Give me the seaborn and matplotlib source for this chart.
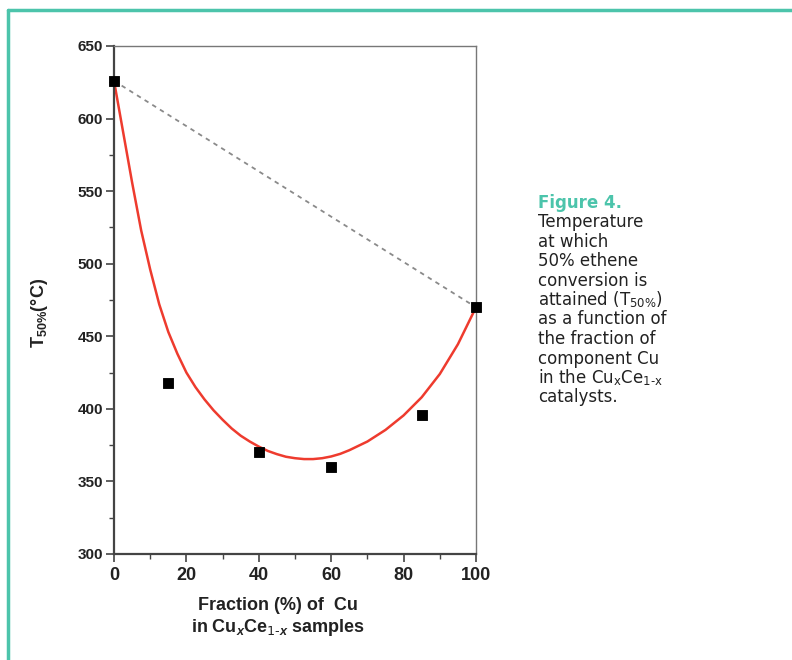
import numpy as np
import pandas as pd
import matplotlib.pyplot as plt
import seaborn as sns

# measured points (fraction of Cu in %, T50% in C)
cu_frac = [0, 15, 40, 60, 85, 100]
t50 = [626, 418, 370, 360, 396, 470]

# fitted red curve
fit_x = [0, 2.5, 5, 7.5, 10, 12.5, 15, 17.5, 20, 22.5, 25, 27.5, 30, 32.5, 35, 37.5,
         40, 42.5, 45, 47.5, 50, 52.5, 55, 57.5, 60, 62.5, 65, 70, 75, 80, 85, 90, 95, 100]
fit_y = [626, 591, 556, 523, 496, 472, 453, 438, 425, 415, 406.5, 399, 392.5, 386.5, 381.5, 377.5,
         374, 371, 368.8, 367, 366, 365.4, 365.4, 366, 367.2, 369, 371.5, 377.5, 385.5, 395.5,
         408, 424, 444.5, 470]

# straight dashed line between the pure oxides
end_x = [0, 100]
end_y = [626, 470]

caption = ["Temperature", "at which", "50% ethene", "conversion is",
           r"attained (T$_{\mathrm{50\%}}$)", "as a function of", "the fraction of",
           "component Cu", r"in the Cu$_{\mathrm{x}}$Ce$_{\mathrm{1\text{-}x}}$", "catalysts."]

sns.set_style("ticks")
plt.rcParams['font.family'] = ['Liberation Sans', 'DejaVu Sans']
plt.rcParams['mathtext.fontset'] = 'custom'
plt.rcParams['mathtext.rm'] = 'DejaVu Sans'
plt.rcParams['mathtext.bf'] = 'Liberation Sans:bold'
plt.rcParams['mathtext.it'] = 'Liberation Sans:bold:italic'

teal = '#4cc4ab'

fig = plt.figure(figsize=(7.92, 6.6), dpi=100)
ax = fig.add_axes([114 / 792, 1 - 554 / 660, 362 / 792, 508 / 660])

df_pts = pd.DataFrame({'x': cu_frac, 'y': t50})
df_fit = pd.DataFrame({'x': fit_x, 'y': fit_y})
df_end = pd.DataFrame({'x': end_x, 'y': end_y})

sns.lineplot(data=df_end, x='x', y='y', ax=ax, color='#8a8a8a', lw=1.3,
             linestyle=(0, (2.5, 2.5)), clip_on=False)
sns.lineplot(data=df_fit, x='x', y='y', ax=ax, color='#ee3b2e', lw=1.8, clip_on=False)
sns.scatterplot(data=df_pts, x='x', y='y', ax=ax, marker='s', s=62, color='black',
                edgecolor='black', zorder=5, clip_on=False)

ax.set_xlim(0, 100)
ax.set_ylim(300, 650)
ax.set_xticks(np.arange(0, 101, 20))
ax.set_xticks(np.arange(10, 100, 20), minor=True)
ax.set_yticks(np.arange(300, 651, 50))
ax.set_yticks(np.arange(325, 650, 50), minor=True)
ax.tick_params(axis='both', which='major', direction='out', length=6, width=1.2, color='#444444')
ax.tick_params(axis='both', which='minor', direction='out', length=3.5, width=1.0, color='#444444')
ax.tick_params(axis='x', labelsize=13, pad=3)
ax.tick_params(axis='y', labelsize=11, pad=2)
for lab in ax.get_xticklabels() + ax.get_yticklabels():
    lab.set_fontweight('bold')
    lab.set_color('#222222')

for side in ['left', 'bottom']:
    ax.spines[side].set_linewidth(1.6)
    ax.spines[side].set_color('#444444')
for side in ['top', 'right']:
    ax.spines[side].set_visible(True)
    ax.spines[side].set_linewidth(1.0)
    ax.spines[side].set_color('#777777')

ax.set_xlabel('')
ax.set_ylabel('')

fig.text(278 / 792, 1 - 605 / 660, "Fraction (%) of  Cu", ha='center', va='center',
         fontsize=13, fontweight='bold', color='#222222')
fig.text(278 / 792, 1 - 628 / 660,
         r"in Cu$_{\mathit{x}}$Ce$_{\mathit{1\text{-}x}}$ samples",
         ha='center', va='center', fontsize=13, fontweight='bold', color='#222222')
fig.text(40 / 792, 1 - 313 / 660, r"T$_{\mathbf{50\%}}$(°C)", rotation=90,
         ha='center', va='center', fontsize=13, fontweight='bold', color='#222222')

# caption on the right
cap_x = 538 / 792
fig.text(cap_x, 1 - 203 / 660, "Figure 4.", ha='left', va='center', fontsize=12,
         fontweight='bold', color=teal, family=['DejaVu Sans'])
for i, line in enumerate(caption):
    fig.text(cap_x, 1 - (222 + i * 19.5) / 660, line, ha='left', va='center',
             fontsize=12, color='#222222', family=['DejaVu Sans'])

# teal frame lines at top and left
fig.add_artist(plt.Line2D([8 / 792, 8 / 792], [0, 1 - 10 / 660], transform=fig.transFigure,
                          color=teal, lw=2.5))
fig.add_artist(plt.Line2D([8 / 792, 1], [1 - 10 / 660, 1 - 10 / 660], transform=fig.transFigure,
                          color=teal, lw=2.5))

fig.savefig('out.png', dpi=100)
